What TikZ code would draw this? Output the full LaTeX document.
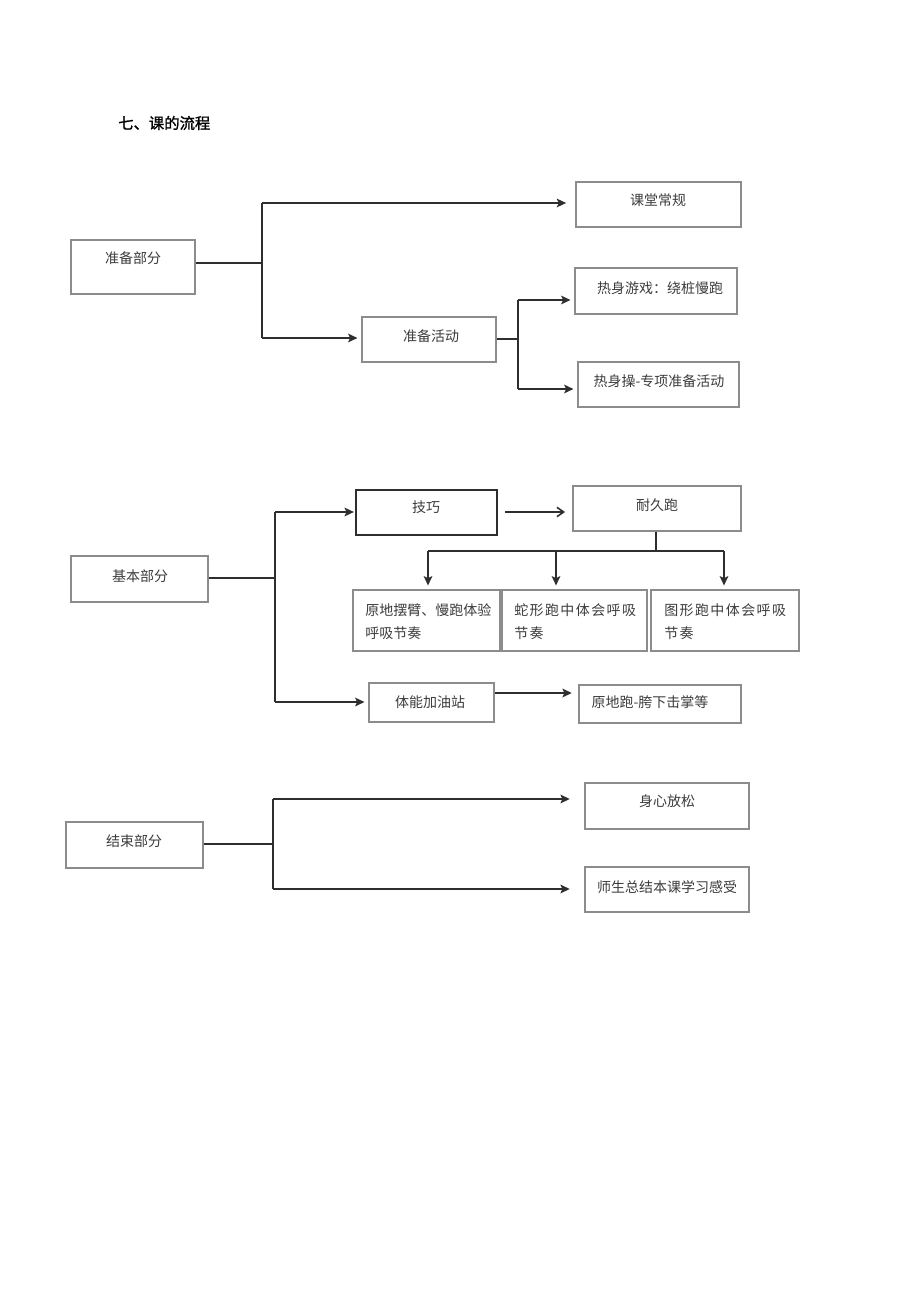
\documentclass[tikz,border=0pt]{standalone}
\usepackage{fontspec}
\setmainfont{Noto Sans CJK SC}
\usetikzlibrary{arrows.meta,fit}
\definecolor{boxc}{HTML}{8C8C8C}
\definecolor{linec}{HTML}{2E2E2E}
\definecolor{txtc}{HTML}{3C3C3C}
\begin{document}
\begin{tikzpicture}[x=0.75pt,y=-0.75pt,
  box/.style={draw=boxc, line width=0.85pt, rectangle, inner sep=0pt},
  boxdark/.style={box, draw=linec, line width=1.2pt},
  txt/.style={font=\fontsize{10.5}{17.25}\selectfont, text=txtc, inner sep=0pt},
  wide/.style={font=\fontsize{10.5}{17.25}\selectfont\addfontfeature{LetterSpace=10}},
  ln/.style={draw=linec, line width=1.2pt},
  arr/.style={ln, -{Stealth[length=7pt,width=6.5pt,inset=1.5pt]}, shorten >=3pt},
  barb/.style={ln, -{Straight Barb[length=5pt,width=7pt]}}
]
\useasboundingbox[fill=white] (0,0) rectangle (920,1301);
\newcommand{\bx}[6][box]{%
  \coordinate (#2-nw) at (#3,#4); \coordinate (#2-se) at (#5,#6);
  \node[#1, fit=(#2-nw)(#2-se)] (#2) {};}

\node[font=\fontsize{11.5}{13}\selectfont\addfontfeature{FakeBold=1.2}, anchor=west, inner sep=0pt] (title) at (118,123) {七、课的流程};

% ---------- section 1 ----------
\bx{b1}{71}{240}{195}{294}
\bx{b2}{576}{182}{741}{227}
\bx{b3}{575}{268}{737}{314}
\bx{b4}{362}{317}{496}{362}
\bx{b5}{578}{362}{739}{407}
\node[txt] (t1) at (133,258) {准备部分};
\node[txt] (t2) at (658,200) {课堂常规};
\node[txt] (t3) at (660,288) {热身游戏：绕桩慢跑};
\node[txt] (t4) at (431,336) {准备活动};
\node[txt] (t5) at (659,381) {热身操-专项准备活动};

\coordinate (j1) at (262,263);
\coordinate (j1a) at (262,203);
\coordinate (j1b) at (262,338);
\draw[ln] (b1.east |- j1) -- (j1);
\draw[ln] (j1a) -- (j1b);
\draw[arr, shorten >=7pt] (j1a) -- (b2.west |- j1a);
\draw[arr] (j1b) -- (b4.west |- j1b);

\coordinate (j2) at (518,339);
\coordinate (j2a) at (518,300);
\coordinate (j2b) at (518,389);
\draw[ln] (b4.east |- j2) -- (j2);
\draw[ln] (j2a) -- (j2b);
\draw[arr] (j2a) -- (b3.west |- j2a);
\draw[arr] (j2b) -- (b5.west |- j2b);

% ---------- section 2 ----------
\bx{b6}{71}{556}{208}{602}
\bx[boxdark]{b7}{356}{490}{497}{535}
\bx{b8}{573}{486}{741}{531}
\bx{b9}{353}{590}{500}{651}
\bx{b10}{502}{590}{647}{651}
\bx{b11}{651}{590}{799}{651}
\bx{b12}{369}{683}{494}{722}
\bx{b13}{579}{685}{741}{723}
\node[txt] (t6) at (140,576) {基本部分};
\node[txt] (t7) at (426,507) {技巧};
\node[txt] (t8) at (657,505) {耐久跑};
\node[txt, align=left, anchor=west] (t9) at (365,621.5) {原地摆臂、慢跑体验\\呼吸节奏};
\node[txt, wide, align=left, anchor=west] (t10) at (514,621.5) {蛇形跑中体会呼吸\\节奏};
\node[txt, wide, align=left, anchor=west] (t11) at (664,621.5) {图形跑中体会呼吸\\节奏};
\node[txt] (t12) at (430,702) {体能加油站};
\node[txt] (t13) at (650,702) {原地跑-胯下击掌等};

\coordinate (j3) at (275,578);
\coordinate (j3a) at (275,512);
\coordinate (j3b) at (275,702);
\draw[ln] (b6.east |- j3) -- (j3);
\draw[ln] (j3a) -- (j3b);
\draw[arr, shorten >=1pt] (j3a) -- (b7.west |- j3a);
\draw[arr] (j3b) -- (b12.west |- j3b);

\coordinate (k1) at (505,512);
\coordinate (k2) at (565,512);
\draw[barb] (k1) -- (k2);

\coordinate (j4) at (656,551);
\coordinate (j4a) at (428,551);
\coordinate (j4b) at (556,551);
\coordinate (j4c) at (724,551);
\draw[ln] (b8.south -| j4) -- (j4);
\draw[ln] (j4a) -- (j4c);
\draw[arr] (j4a) -- (b9.north -| j4a);
\draw[arr] (j4b) -- (b10.north -| j4b);
\draw[arr] (j4c) -- (b11.north -| j4c);

\coordinate (j5) at (494,693);
\draw[arr, shorten >=5pt] (b12.east |- j5) -- (b13.west |- j5);

% ---------- section 3 ----------
\bx{b14}{66}{822}{203}{868}
\bx{b15}{585}{783}{749}{829}
\bx{b16}{585}{867}{749}{912}
\node[txt] (t14) at (134,841) {结束部分};
\node[txt] (t15) at (667,801) {身心放松};
\node[txt] (t16) at (667,887) {师生总结本课学习感受};

\coordinate (j6) at (273,844);
\coordinate (j6a) at (273,799);
\coordinate (j6b) at (273,889);
\draw[ln] (b14.east |- j6) -- (j6);
\draw[ln] (j6a) -- (j6b);
\draw[arr, shorten >=11pt] (j6a) -- (b15.west |- j6a);
\draw[arr, shorten >=11pt] (j6b) -- (b16.west |- j6b);
\end{tikzpicture}
\end{document}
